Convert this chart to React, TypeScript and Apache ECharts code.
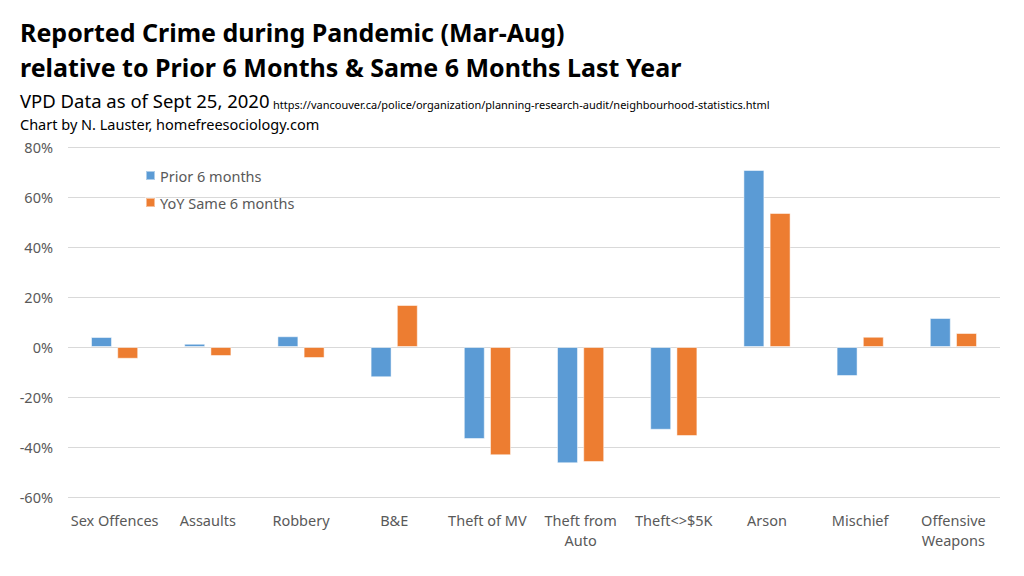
import React, { useEffect, useRef } from "react";
import * as echarts from "echarts";

const categories = [
  "Sex Offences",
  "Assaults",
  "Robbery",
  "B&E",
  "Theft of MV",
  "Theft from\nAuto",
  "Theft<>$5K",
  "Arson",
  "Mischief",
  "Offensive\nWeapons",
];
const prior6 = [4.0, 1.3, 4.3, -12.1, -36.8, -46.5, -33.1, 70.8, -11.6, 11.6];
const yoySame6 = [-4.7, -3.6, -4.4, 16.8, -43.3, -46.0, -35.6, 53.6, 4.1, 5.6];
const seriesNames = ["Prior 6 months", "YoY Same 6 months"];

const FONT = "'Noto Sans', 'Open Sans', sans-serif";

export default function App() {
  const ref = useRef<HTMLDivElement>(null);
  useEffect(() => {
    document.body.style.margin = "0";
    if (!ref.current) return;
    const chart = echarts.init(ref.current, undefined, { renderer: "svg" });
    chart.setOption({
      animation: false,
      backgroundColor: "#ffffff",
      textStyle: { fontFamily: FONT },
      title: [
        {
          text: "Reported Crime during Pandemic (Mar-Aug)",
          left: 20,
          top: 19.5,
          padding: 0,
          textStyle: { fontFamily: FONT, fontSize: 25, fontWeight: "bold", color: "#000" },
        },
        {
          text: "relative to Prior 6 Months & Same 6 Months Last Year",
          left: 20,
          top: 54.5,
          padding: 0,
          textStyle: { fontFamily: FONT, fontSize: 25, fontWeight: "bold", color: "#000" },
        },
        {
          text: "VPD Data as of Sept 25, 2020",
          left: 20,
          top: 91,
          padding: 0,
          textStyle: { fontFamily: FONT, fontSize: 18.5, fontWeight: "normal", color: "#000" },
        },
        {
          text: "https://vancouver.ca/police/organization/planning-research-audit/neighbourhood-statistics.html",
          left: 273,
          top: 98.5,
          padding: 0,
          textStyle: { fontFamily: FONT, fontSize: 11, fontWeight: "normal", color: "#000" },
        },
        {
          text: "Chart by N. Lauster, homefreesociology.com",
          left: 20,
          top: 116.5,
          padding: 0,
          textStyle: { fontFamily: FONT, fontSize: 14.5, fontWeight: "normal", color: "#000" },
        },
      ],
      legend: {
        orient: "vertical",
        left: 145,
        top: 168,
        padding: 0,
        itemWidth: 9,
        itemHeight: 9,
        itemGap: 12,
        icon: "rect",
        textStyle: { fontFamily: FONT, fontSize: 14.5, color: "#595959" },
        data: seriesNames,
      },
      grid: { left: 68, right: 24, top: 147, bottom: 79, containLabel: false },
      xAxis: {
        type: "category",
        data: categories,
        axisLine: { show: false },
        axisTick: { show: false },
        position: "bottom",
        axisLabel: {
          fontFamily: FONT,
          fontSize: 14.5,
          color: "#595959",
          margin: 13,
          lineHeight: 20,
          interval: 0,
        },
      },
      yAxis: {
        type: "value",
        min: -60,
        max: 80,
        interval: 20,
        axisLine: { show: false },
        axisTick: { show: false },
        axisLabel: {
          fontFamily: FONT,
          fontSize: 14.5,
          color: "#595959",
          margin: 15,
          formatter: (v: number) => `${v}%`,
        },
        splitLine: { lineStyle: { color: "#d9d9d9", width: 1 } },
      },
      series: [
        {
          name: seriesNames[0],
          type: "bar",
          data: prior6,
          barWidth: "22.5%",
          barGap: "25%",
          itemStyle: { color: "#5B9BD5", borderColor: "rgba(255,255,255,0.5)", borderWidth: 1 },
        },
        {
          name: seriesNames[1],
          type: "bar",
          data: yoySame6,
          barWidth: "22.5%",
          barGap: "25%",
          itemStyle: { color: "#ED7D31", borderColor: "rgba(255,255,255,0.5)", borderWidth: 1 },
        },
      ],
    });
    return () => chart.dispose();
  }, []);
  return <div ref={ref} style={{ width: 1024, height: 576 }} />;
}
